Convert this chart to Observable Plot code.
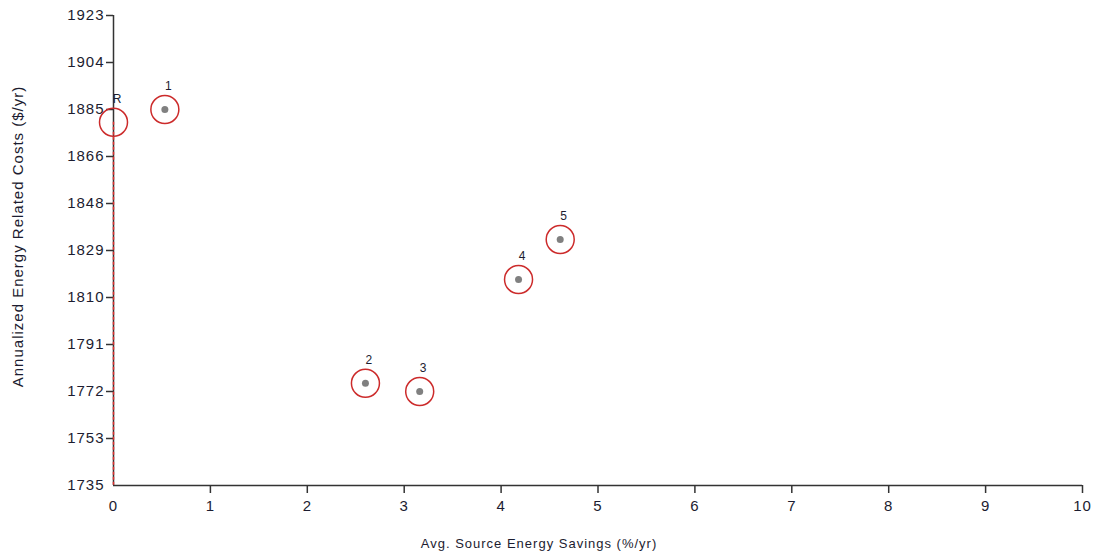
<!DOCTYPE html>
<html>
<head>
<meta charset="utf-8">
<script src="https://cdn.jsdelivr.net/npm/d3@7"></script>
<script src="https://cdn.jsdelivr.net/npm/@observablehq/plot@0.6"></script>
<style>
  html, body { margin: 0; padding: 0; background: #fff; }
  svg { font-family: Arial, "Liberation Sans", sans-serif; }
  svg text { letter-spacing: 1px; }
</style>
</head>
<body>
<div id="chart"></div>
<script>
// Data
const pointLabels = ["R", "1", "2", "3", "4", "5"];
const savings = [0, 0.53, 2.60, 3.16, 4.18, 4.61];          // Avg. Source Energy Savings (%/yr)
const costs = [1880.3, 1885.4, 1775.9, 1772.6, 1817.4, 1833.4]; // Annualized Energy Related Costs ($/yr)

const xTicks = [0, 1, 2, 3, 4, 5, 6, 7, 8, 9, 10];
const yTicks = [1735, 1753.8, 1772.6, 1791.4, 1810.2, 1829, 1847.8, 1866.6, 1885.4, 1904.2, 1923];
const yTickLabels = ["1735", "1753", "1772", "1791", "1810", "1829", "1848", "1866", "1885", "1904", "1923"];

const xTitle = "Avg. Source Energy Savings (%/yr)";
const yTitle = "Annualized Energy Related Costs ($/yr)";

const points = pointLabels.map((l, i) => ({label: l, x: savings[i], y: costs[i]}));
const ref = points.filter(d => d.label === "R");
const others = points.filter(d => d.label !== "R");
const yLabelMap = new Map(yTicks.map((v, i) => [v, yTickLabels[i]]));

const axisColor = "#333";
const textColor = "#1c1c30";

const chart = Plot.plot({
  width: 1097,
  height: 558,
  marginLeft: 113,
  marginRight: 15,
  marginTop: 15,
  marginBottom: 73,
  style: {fontFamily: "Arial, 'Liberation Sans', sans-serif", background: "#fff"},
  x: {domain: [0, 10]},
  y: {domain: [1735, 1923]},
  marks: [
    // axis lines
    Plot.ruleX([0], {stroke: axisColor, strokeWidth: 1.5}),
    Plot.ruleY([1735], {stroke: axisColor, strokeWidth: 1.5}),
    // tick marks (without labels)
    Plot.axisY({ticks: yTicks.slice(1), tickSize: 7, tickFormat: () => "", stroke: axisColor, strokeWidth: 1.5, label: null}),
    Plot.axisX({ticks: xTicks.slice(1), tickSize: 8, tickFormat: () => "", stroke: axisColor, strokeWidth: 1.5, label: null}),
    // tick labels
    Plot.axisY({ticks: yTicks, tickSize: 0, tickPadding: 9, tickFormat: d => yLabelMap.get(d), fontSize: 15, fill: textColor, label: null}),
    Plot.axisX({ticks: xTicks, tickSize: 0, tickPadding: 15, fontSize: 15, fill: textColor, label: null}),
    // axis titles
    Plot.text([xTitle], {text: d => d, frameAnchor: "bottom", dx: -59, dy: 62, fontSize: 13, fill: textColor, textAnchor: "middle"}),
    Plot.text([yTitle], {text: d => d, frameAnchor: "left", rotate: -90, dx: -95, dy: -14, fontSize: 15, fill: textColor, textAnchor: "middle"}),
    // reference dashed line down to x axis
    Plot.ruleX(ref, {x: "x", y1: "y", y2: 1735, stroke: "#e03030", strokeWidth: 1.5, strokeDasharray: "3,2"}),
    // points
    Plot.dot(others, {x: "x", y: "y", r: 3.5, fill: "#808080", stroke: "none"}),
    Plot.dot(points, {x: "x", y: "y", r: 14, fill: "none", stroke: "#cc2b2b", strokeWidth: 1.5}),
    Plot.text(points, {x: "x", y: "y", text: "label", dx: 4, dy: -23, fontSize: 12, fill: textColor})
  ]
});
document.getElementById("chart").appendChild(chart);
</script>
</body>
</html>
